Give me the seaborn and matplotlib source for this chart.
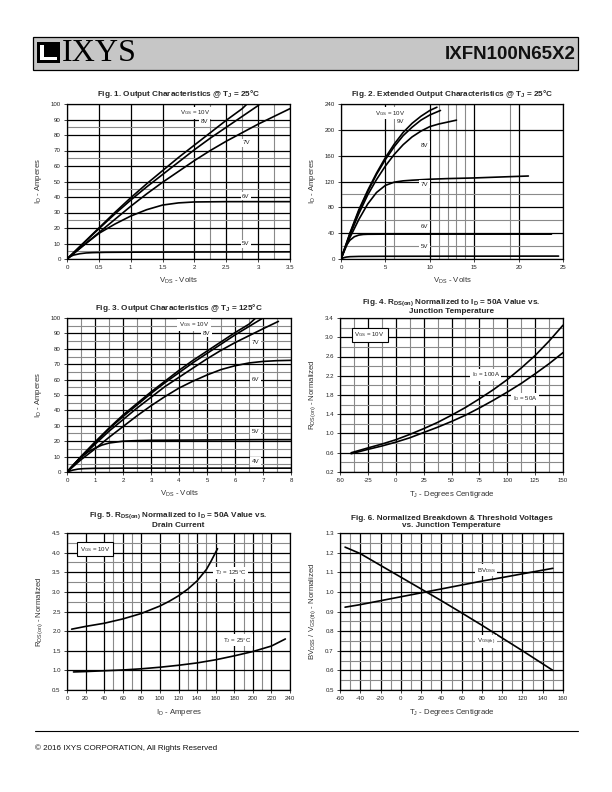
import matplotlib.pyplot as plt
import numpy as np
import pandas as pd
import seaborn as sns
from matplotlib import font_manager
from matplotlib.patches import Rectangle

# ---- Fig. 1 data: output characteristics @ 25C (VDS volts, ID amps)
f1_10v_x = [0, 0.25, 0.5, 0.75, 1.0, 1.25, 1.5, 1.75, 2.0, 2.25, 2.5, 2.75, 2.85]
f1_10v_y = [0, 10, 20, 30, 39.5, 48.5, 57, 65.5, 73.5, 81.5, 89.5, 97, 101]
f1_8v_x = [0, 0.25, 0.5, 0.75, 1.0, 1.25, 1.5, 1.75, 2.0, 2.25, 2.5, 2.75, 3.0, 3.05]
f1_8v_y = [0, 9.8, 19.5, 29, 38, 46.5, 54.5, 62.5, 70.5, 78, 85, 92, 99, 101]
f1_7v_x = [0, 0.25, 0.5, 0.75, 1.0, 1.25, 1.5, 1.75, 2.0, 2.25, 2.5, 2.75, 3.0, 3.25, 3.5]
f1_7v_y = [0, 8.5, 17, 25.5, 34, 42, 49.5, 56.5, 63.5, 70, 76, 81.5, 87, 92, 97]
f1_6v_x = [0, 0.25, 0.5, 0.75, 1.0, 1.25, 1.5, 1.75, 2.0, 2.5, 3.0, 3.5]
f1_6v_y = [0, 8.5, 16.5, 22.5, 27.7, 31.8, 34.8, 36.2, 36.8, 37, 37, 37]
f1_5v_x = [0, 0.05, 0.1, 0.2, 0.3, 0.4, 0.6, 1.0, 2.0, 3.5]
f1_5v_y = [0, 1.5, 2.5, 3.4, 3.9, 4.1, 4.3, 4.4, 4.5, 4.6]

# ---- Fig. 2 data: extended output characteristics @ 25C
f2_10v_x = [0, 1, 2, 3, 4, 5, 6, 7, 8, 9, 10, 10.8]
f2_10v_y = [0, 40, 76, 106, 133, 157, 178, 196, 210, 221, 230, 235]
f2_9v_x = [0, 1, 2, 3, 4, 5, 6, 7, 8, 9, 10, 11.2]
f2_9v_y = [0, 39, 74, 104, 131, 154, 174, 191, 204, 215, 223, 230]
f2_8v_x = [0, 1, 2, 3, 4, 5, 6, 7, 8, 9, 10, 11, 12, 13]
f2_8v_y = [0, 37, 70, 99, 123, 144, 162, 177, 189, 198, 205, 209, 212, 215]
f2_7v_x = [0, 1, 2, 3, 4, 5, 6, 7, 8, 10, 12, 15, 18, 21.1]
f2_7v_y = [0, 33, 61, 85, 103, 114, 119, 121, 122, 123.5, 124.5, 125.5, 127, 128.5]
f2_6v_x = [0, 0.5, 1, 1.5, 2, 2.5, 3, 5, 10, 15, 23.7]
f2_6v_y = [0, 19, 29, 34.5, 37, 38, 38.3, 38.5, 38.5, 38.5, 38.5]
f2_5v_x = [0, 0.3, 0.6, 1, 2, 5, 24.5]
f2_5v_y = [0, 2, 3, 3.6, 4, 4.2, 4.5]

# ---- Fig. 3 data: output characteristics @ 125C
f3_10v_x = [0, 0.5, 1, 1.5, 2, 2.5, 3, 3.5, 4, 4.5, 5, 5.5, 6, 6.5, 6.8]
f3_10v_y = [0, 10, 19.5, 28.5, 37, 44.5, 52, 59, 66, 72.5, 78.5, 84.5, 90.5, 96, 101]
f3_8v_x = [0, 0.5, 1, 1.5, 2, 2.5, 3, 3.5, 4, 4.5, 5, 5.5, 6, 6.5, 7.0]
f3_8v_y = [0, 10, 19, 28, 36, 43.5, 51, 58, 64.5, 71, 77, 83, 89, 94.5, 100]
f3_7v_x = [0, 0.5, 1, 1.5, 2, 2.5, 3, 3.5, 4, 4.5, 5, 5.5, 6, 6.5, 7, 7.55]
f3_7v_y = [0, 9.5, 18, 26.5, 34, 41.5, 48.5, 55.5, 61.5, 67.5, 73.5, 79, 84, 88.5, 93, 97.8]
f3_6v_x = [0, 0.5, 1, 1.5, 2, 2.5, 3, 3.5, 4, 4.5, 5, 5.5, 6, 6.5, 7, 7.5, 8]
f3_6v_y = [0, 8, 15, 22.5, 29.5, 36.5, 43, 49, 54.5, 59, 63, 66.5, 69, 70.8, 71.8, 72.3, 72.5]
f3_5v_x = [0, 0.25, 0.5, 0.75, 1, 1.25, 1.5, 2, 2.5, 3, 4, 5, 6, 7, 8]
f3_5v_y = [0, 5, 9.5, 13, 15.5, 17.5, 18.8, 20, 20.4, 20.6, 20.7, 20.8, 20.9, 21, 21]
f3_4v_x = [0, 0.2, 0.4, 0.6, 1, 2, 4, 8]
f3_4v_y = [0, 1.2, 1.9, 2.2, 2.4, 2.5, 2.5, 2.5]

# ---- Fig. 4 data: RDS(on) normalized vs junction temperature
f4_t = [-40, -25, -12.5, 0, 12.5, 25, 37.5, 50, 62.5, 75, 87.5, 100, 112.5, 125, 137.5, 150]
f4_100a = [0.6, 0.7, 0.78, 0.87, 0.98, 1.1, 1.23, 1.38, 1.54, 1.72, 1.91, 2.12, 2.36, 2.62, 2.92, 3.25]
f4_50a = [0.58, 0.67, 0.74, 0.82, 0.91, 1.02, 1.13, 1.25, 1.38, 1.53, 1.69, 1.86, 2.04, 2.24, 2.45, 2.68]

# ---- Fig. 5 data: RDS(on) normalized vs drain current
f5_125_x = [5, 20, 40, 60, 80, 100, 110, 120, 130, 140, 150, 155, 162]
f5_125_y = [2.05, 2.12, 2.2, 2.31, 2.45, 2.64, 2.76, 2.9, 3.07, 3.28, 3.57, 3.78, 4.1]
f5_25_x = [7, 20, 40, 60, 80, 100, 120, 140, 160, 180, 200, 220, 235]
f5_25_y = [0.96, 0.97, 0.99, 1.01, 1.04, 1.08, 1.13, 1.19, 1.27, 1.37, 1.48, 1.62, 1.80]

# ---- Fig. 6 data: normalized breakdown & threshold voltages
f6_t = [-55, -40, -20, 0, 20, 40, 60, 80, 100, 120, 150]
f6_bvdss = [0.922, 0.935, 0.955, 0.975, 0.995, 1.015, 1.035, 1.055, 1.073, 1.092, 1.12]
f6_vgsth = [1.228, 1.195, 1.135, 1.075, 1.015, 0.955, 0.893, 0.83, 0.765, 0.70, 0.60]

W, H = 612, 792

sns.set_theme(style="white")
plt.rcParams["font.family"] = ["Liberation Sans", "DejaVu Sans"]
plt.rcParams["mathtext.default"] = "regular"

names = {f.name for f in font_manager.fontManager.ttflist}
if "Liberation Sans Narrow" in names:
    title_font = ["Liberation Sans Narrow", "DejaVu Sans"]
    title_size = 7.0
else:
    title_font = ["Liberation Sans", "DejaVu Sans"]
    title_size = 5.9


def px_axes(fig, x0, x1, y0, y1):
    """Axes placed by pixel box (left, right, top, bottom)"""
    return fig.add_axes([x0 / W, 1 - y1 / H, (x1 - x0) / W, (y1 - y0) / H])


def style_axes(ax, xlim, ylim, xmaj, xlab, ymaj, ylab, xmin, ymin,
               xlabel, ylabel, title, pad):
    ax.set_xlim(*xlim)
    ax.set_ylim(*ylim)
    ax.set_xticks(xmaj, xlab)
    ax.set_yticks(ymaj, ylab)
    ax.set_xticks(xmin, minor=True)
    ax.set_yticks(ymin, minor=True)
    ax.grid(which="minor", color="#8a8a8a", lw=0.8)
    ax.grid(which="major", color="black", lw=0.9)
    ax.set_axisbelow(True)
    ax.tick_params(which="major", direction="out", length=2, width=0.6,
                   labelsize=4.4, pad=2.5, colors="#222222",
                   left=True, bottom=True)
    ax.tick_params(which="minor", length=0)
    for s in ax.spines.values():
        s.set_color("black")
        s.set_linewidth(0.9)
    ax.set_xlabel(xlabel, fontsize=5.6, color="#333333", labelpad=4)
    ax.set_ylabel(ylabel, fontsize=5.6, color="#333333", labelpad=5)
    ax.set_title(title, fontsize=title_size, fontweight="bold",
                 family=title_font, pad=pad, linespacing=1.1)


def curve(ax, x, y):
    sns.lineplot(x=x, y=y, ax=ax, color="black", lw=1.2, sort=False,
                 estimator=None, legend=False)


def note(ax, x, y, s, box=False, ha="left"):
    if box:
        bb = dict(boxstyle="square,pad=0.45", fc="white", ec="black", lw=0.8)
    else:
        bb = dict(boxstyle="square,pad=0.25", fc="white", ec="none")
    ax.text(x, y, s, fontsize=4.4, ha=ha, va="center", bbox=bb,
            color="#222222", zorder=5)


fig = plt.figure(figsize=(W / 100, H / 100), dpi=100)

# header bar
fig.patches.append(Rectangle((33 / W, 1 - 70 / H), 545 / W, 33 / H,
                             transform=fig.transFigure, fc="#c6c6c6",
                             ec="black", lw=0.9))
fig.patches.append(Rectangle((37 / W, 1 - 63 / H), 23 / W, 21 / H,
                             transform=fig.transFigure, fc="black", ec="none"))
fig.patches.append(Rectangle((40 / W, 1 - 60 / H), 17 / W, 15 / H,
                             transform=fig.transFigure, fc="white", ec="none"))
fig.patches.append(Rectangle((43.5 / W, 1 - 56.5 / H), 13.5 / W, 11.5 / H,
                             transform=fig.transFigure, fc="black", ec="none"))
fig.text(62 / W, 1 - 53.5 / H, "IXYS", family=["Liberation Serif", "DejaVu Serif"],
         fontsize=23, va="center", ha="left", color="black")
fig.text(576 / W, 1 - 54.5 / H, "IXFN100N65X2", fontsize=13.5,
         fontweight="bold", va="center", ha="right", color="#111111")

# footer
fig.add_artist(plt.Line2D([35 / W, 578 / W], [1 - 731 / H, 1 - 731 / H],
                          transform=fig.transFigure, color="black", lw=0.8))
fig.text(35 / W, 1 - 748 / H, "© 2016 IXYS CORPORATION, All Rights Reserved",
         fontsize=5.8, va="center", ha="left", color="#111111")

# Fig. 1
ax1 = px_axes(fig, 67, 290, 104, 259)
style_axes(ax1, (0, 3.5), (0, 100),
           [0, 0.5, 1, 1.5, 2, 2.5, 3, 3.5], ["0", "0.5", "1", "1.5", "2", "2.5", "3", "3.5"],
           range(0, 101, 10), [str(v) for v in range(0, 101, 10)],
           [2.25, 2.75, 3.25], [5, 25, 45, 65, 85],
           "V$_{DS}$ - Volts", "I$_D$ - Amperes",
           "Fig. 1. Output Characteristics @ T$_J$ = 25°C", 6)
for x, y in [(f1_10v_x, f1_10v_y), (f1_8v_x, f1_8v_y), (f1_7v_x, f1_7v_y),
             (f1_6v_x, f1_6v_y), (f1_5v_x, f1_5v_y)]:
    curve(ax1, x, y)
note(ax1, 1.77, 94.5, "V$_{GS}$ = 10V")
note(ax1, 2.1, 89, "8V")
note(ax1, 2.75, 75, "7V")
note(ax1, 2.75, 40.5, "6V")
note(ax1, 2.75, 9.7, "5V")

# Fig. 2
ax2 = px_axes(fig, 341, 563, 104, 259)
style_axes(ax2, (0, 25), (0, 240),
           [0, 5, 10, 15, 20, 25], ["0", "5", "10", "15", "20", "25"],
           range(0, 241, 40), [str(v) for v in range(0, 241, 40)],
           [6, 11, 12, 13, 14, 19], [20, 60, 100],
           "V$_{DS}$ - Volts", "I$_D$ - Amperes",
           "Fig. 2. Extended Output Characteristics @ T$_J$ = 25°C", 6)
for x, y in [(f2_10v_x, f2_10v_y), (f2_9v_x, f2_9v_y), (f2_8v_x, f2_8v_y),
             (f2_7v_x, f2_7v_y), (f2_6v_x, f2_6v_y), (f2_5v_x, f2_5v_y)]:
    curve(ax2, x, y)
note(ax2, 3.8, 225.5, "V$_{GS}$ = 10V")
note(ax2, 6.3, 213.5, "9V")
note(ax2, 9.0, 176.5, "8V")
note(ax2, 9.0, 115.5, "7V")
note(ax2, 9.0, 51, "6V")
note(ax2, 9.0, 19, "5V")

# Fig. 3
ax3 = px_axes(fig, 67, 291, 318, 472)
style_axes(ax3, (0, 8), (0, 100),
           range(0, 9), [str(v) for v in range(0, 9)],
           range(0, 101, 10), [str(v) for v in range(0, 101, 10)],
           np.arange(0.5, 8, 1.0), range(5, 100, 10),
           "V$_{DS}$ - Volts", "I$_D$ - Amperes",
           "Fig. 3. Output Characteristics @ T$_J$ = 125°C", 6)
for x, y in [(f3_10v_x, f3_10v_y), (f3_8v_x, f3_8v_y), (f3_7v_x, f3_7v_y),
             (f3_6v_x, f3_6v_y), (f3_5v_x, f3_5v_y), (f3_4v_x, f3_4v_y)]:
    curve(ax3, x, y)
note(ax3, 4.0, 95.7, "V$_{GS}$ = 10V")
note(ax3, 4.85, 90, "8V")
note(ax3, 6.6, 84, "7V")
note(ax3, 6.6, 60, "6V")
note(ax3, 6.6, 26.6, "5V")
note(ax3, 6.6, 7, "4V")

# Fig. 4
ax4 = px_axes(fig, 340, 563, 318, 472)
ticks4 = [0.2, 0.6, 1.0, 1.4, 1.8, 2.2, 2.6, 3.0, 3.4]
style_axes(ax4, (-50, 150), (0.2, 3.4),
           range(-50, 151, 25), [str(v) for v in range(-50, 151, 25)],
           ticks4, [f"{v:.1f}" for v in ticks4],
           np.arange(-37.5, 150, 25), [0.4, 0.8, 1.2, 1.6, 2.0, 2.4, 2.8, 3.2],
           "T$_J$ - Degrees Centigrade", "R$_{DS(on)}$ - Normalized",
           "Fig. 4. R$_{DS(on)}$ Normalized to I$_D$ = 50A Value vs.\nJunction Temperature", 3.5)
curve(ax4, f4_t, f4_100a)
curve(ax4, f4_t, f4_50a)
note(ax4, -37, 3.05, "V$_{GS}$ = 10V", box=True)
note(ax4, 68, 2.22, "I$_D$ = 100A")
note(ax4, 105, 1.72, "I$_D$ = 50A")

# Fig. 5
ax5 = px_axes(fig, 67, 290, 533, 690)
ticks5 = [0.5, 1.0, 1.5, 2.0, 2.5, 3.0, 3.5, 4.0, 4.5]
style_axes(ax5, (0, 240), (0.5, 4.5),
           range(0, 241, 20), [str(v) for v in range(0, 241, 20)],
           ticks5, [f"{v:.1f}" for v in ticks5],
           [50, 70, 130, 150, 190, 210], [2.75, 3.25, 3.75, 4.25],
           "I$_D$ - Amperes", "R$_{DS(on)}$ - Normalized",
           "Fig. 5. R$_{DS(on)}$ Normalized to I$_D$ = 50A Value vs.\nDrain Current", 4.5)
curve(ax5, f5_125_x, f5_125_y)
curve(ax5, f5_25_x, f5_25_y)
note(ax5, 14, 4.09, "V$_{GS}$ = 10V", box=True)
note(ax5, 159, 3.48, "T$_J$ = 125°C")
note(ax5, 168, 1.77, "T$_J$ = 25°C")

# Fig. 6
ax6 = px_axes(fig, 340, 563, 533, 690)
ticks6 = [0.5, 0.6, 0.7, 0.8, 0.9, 1.0, 1.1, 1.2, 1.3]
style_axes(ax6, (-60, 160), (0.5, 1.3),
           range(-60, 161, 20), [str(v) for v in range(-60, 161, 20)],
           ticks6, [f"{v:.1f}" for v in ticks6],
           range(-50, 151, 20), np.arange(0.55, 1.3, 0.1),
           "T$_J$ - Degrees Centigrade", "BV$_{DSS}$ / V$_{GS(th)}$ - Normalized",
           "Fig. 6. Normalized Breakdown & Threshold Voltages\nvs. Junction Temperature", 4)
curve(ax6, f6_t, f6_bvdss)
curve(ax6, f6_t, f6_vgsth)
note(ax6, 75, 1.11, "BV$_{DSS}$")
note(ax6, 75, 0.747, "V$_{GS(th)}$")

fig.savefig("out.png", dpi=100)
